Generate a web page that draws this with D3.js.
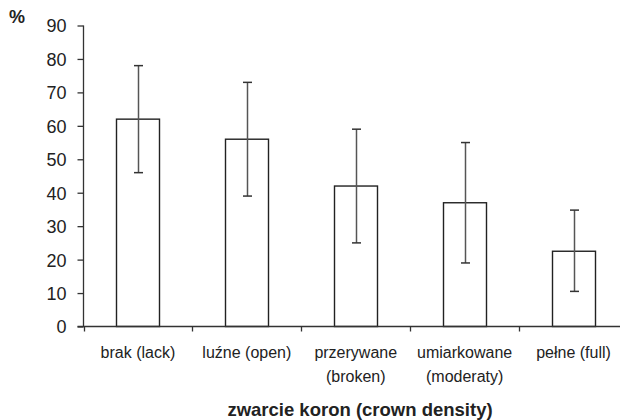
<!DOCTYPE html>
<html>
<head>
<meta charset="utf-8">
<script src="https://cdn.jsdelivr.net/npm/d3@7"></script>
<style>
  body { margin: 0; background: #fff; }
  svg { display: block; font-family: "Liberation Sans", Arial, sans-serif; }
</style>
</head>
<body>
<div id="chart"></div>
<script>
const categories = [
  ["brak (lack)"],
  ["luźne (open)"],
  ["przerywane", "(broken)"],
  ["umiarkowane", "(moderaty)"],
  ["pełne (full)"],
];
const values = [62, 56, 42, 37, 22.5];
const errLow = [46, 39, 25, 19, 10.5];
const errHigh = [78, 73, 59, 55, 34.8];
const yTicks = [0, 10, 20, 30, 40, 50, 60, 70, 80, 90];

const width = 620,
  height = 420;
const x0 = 83.5,
  x1 = 628,
  yBottom = 326.5,
  yTop = 25.5;

const svg = d3
  .select("#chart")
  .append("svg")
  .attr("width", width)
  .attr("height", height);

const x = d3
  .scaleBand()
  .domain(d3.range(categories.length))
  .range([x0, x1])
  .paddingInner(0.605)
  .paddingOuter(0.3025);

const y = d3.scaleLinear().domain([0, 90]).range([yBottom, yTop]);

// bars
svg
  .selectAll(".bar")
  .data(values)
  .enter()
  .append("rect")
  .attr("class", "bar")
  .attr("x", (d, i) => Math.round(x(i)) + 0.5)
  .attr("y", (d) => y(d))
  .attr("width", Math.round(x.bandwidth()))
  .attr("height", (d) => y(0) - y(d))
  .attr("fill", "#fff")
  .attr("stroke", "#222")
  .attr("stroke-width", 1.4);

// error bars
const eb = svg
  .selectAll(".err")
  .data(values)
  .enter()
  .append("g")
  .attr("class", "err")
  .attr("stroke", "#555")
  .attr("stroke-width", 1.5);

const cx = (i) => Math.round(x(i) + x.bandwidth() / 2) + 0.5;

eb.append("line")
  .attr("x1", (d, i) => cx(i))
  .attr("x2", (d, i) => cx(i))
  .attr("y1", (d, i) => y(errLow[i]))
  .attr("y2", (d, i) => y(errHigh[i]));

eb.append("line")
  .attr("x1", (d, i) => cx(i) - 4.5)
  .attr("x2", (d, i) => cx(i) + 4.5)
  .attr("y1", (d, i) => y(errHigh[i]))
  .attr("y2", (d, i) => y(errHigh[i]))
  .attr("stroke", "#333");

eb.append("line")
  .attr("x1", (d, i) => cx(i) - 4.5)
  .attr("x2", (d, i) => cx(i) + 4.5)
  .attr("y1", (d, i) => y(errLow[i]))
  .attr("y2", (d, i) => y(errLow[i]))
  .attr("stroke", "#333");

// y axis
const yAxis = svg
  .append("g")
  .attr("transform", `translate(${x0},0)`)
  .call(d3.axisLeft(y).tickValues(yTicks).tickSize(6).tickPadding(11));

yAxis.select(".domain").attr("stroke", "#333").attr("stroke-width", 1.3)
  .attr("d", `M0,${yTop}V${yBottom}`);
yAxis.selectAll(".tick line").attr("stroke", "#333").attr("stroke-width", 1.3);
yAxis
  .selectAll(".tick text")
  .attr("fill", "#222")
  .style("font-size", "18px")
  .attr("dy", "0.36em");

// x axis
const xLine = svg.append("g").attr("stroke", "#333").attr("stroke-width", 1.3);
xLine
  .append("line")
  .attr("x1", x0 - 6)
  .attr("x2", x1)
  .attr("y1", yBottom)
  .attr("y2", yBottom);

xLine
  .selectAll(".xtick")
  .data(d3.range(categories.length))
  .enter()
  .append("line")
  .attr("class", "xtick")
  .attr("x1", (d) => Math.round(x(d) - x.step() * x.paddingOuter()) + 0.5)
  .attr("x2", (d) => Math.round(x(d) - x.step() * x.paddingOuter()) + 0.5)
  .attr("y1", yBottom)
  .attr("y2", yBottom + 5);

const labels = svg
  .selectAll(".xlabel")
  .data(categories)
  .enter()
  .append("text")
  .attr("class", "xlabel")
  .attr("text-anchor", "middle")
  .attr("fill", "#222")
  .style("font-size", "16px");

labels
  .selectAll("tspan")
  .data((d, i) => d.map((t) => ({ t, i })))
  .enter()
  .append("tspan")
  .attr("x", (d) => x(d.i) + x.bandwidth() / 2)
  .attr("y", (d, j) => 358 + j * 24)
  .text((d) => d.t);

// axis titles
svg
  .append("text")
  .attr("x", 9)
  .attr("y", 22.5)
  .attr("fill", "#222")
  .style("font-size", "18px")
  .style("font-weight", "bold")
  .text("%");

svg
  .append("text")
  .attr("x", 360)
  .attr("y", 416)
  .attr("text-anchor", "middle")
  .attr("fill", "#222")
  .style("font-size", "18.5px")
  .style("font-weight", "bold")
  .text("zwarcie koron (crown density)");
</script>
</body>
</html>
